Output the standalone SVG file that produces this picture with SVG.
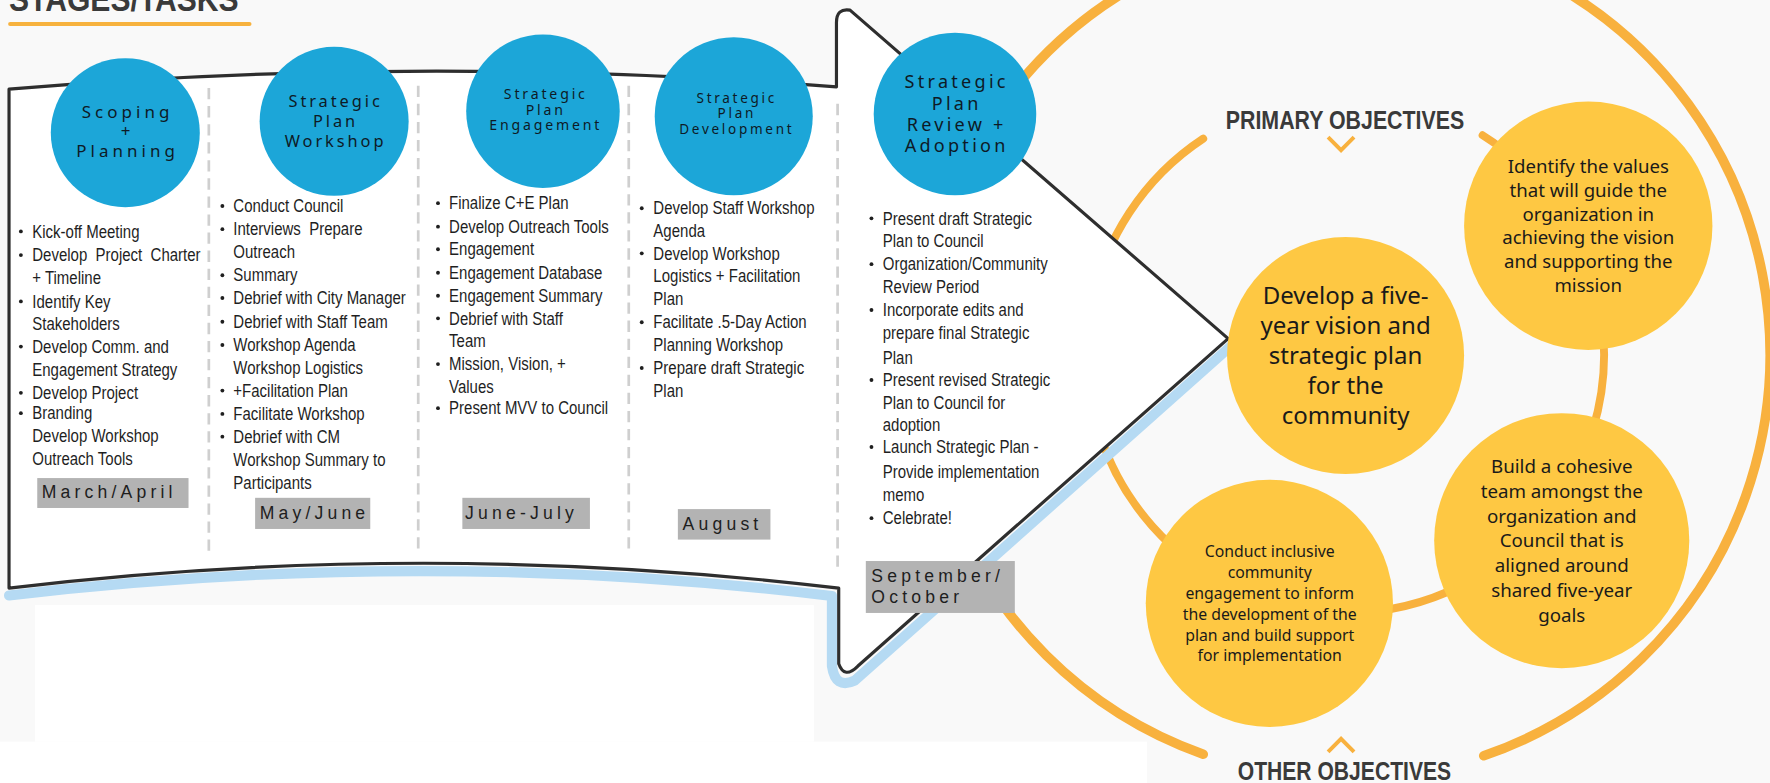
<svg xmlns="http://www.w3.org/2000/svg" width="1770" height="783" viewBox="0 0 1770 783">
<defs>
<style>
.bul{font-family:"Liberation Sans",Arial,sans-serif;font-size:16.2px;fill:#1f1f1f}
.dot{fill:#1f1f1f}
.stage{font-family:"Noto Sans","Open Sans",sans-serif;fill:#0e1a26;text-anchor:middle}
.lab{font-family:"Liberation Sans",Arial,sans-serif;font-size:15.6px;letter-spacing:3.7px;fill:#1e1e1e}
.labbox{fill:#b3b3b3}
.obj{font-family:"Noto Sans","Liberation Sans",sans-serif;fill:#1a1a1a;text-anchor:middle}
.head{font-family:"Liberation Sans",Arial,sans-serif;font-weight:bold;fill:#3a3a3a}
.ring{fill:none;stroke:#f8b13e;stroke-linecap:round}
.bc{fill:#1ca6d8}
.yc{fill:#fec843}
.sep{stroke:#cfcfcf;stroke-width:2.4;stroke-dasharray:10 6;fill:none}
.chev{fill:none;stroke:#f8b13e;stroke-width:3.5}
</style>
</defs>
<rect x="0" y="0" width="1770" height="783" fill="#f9f9f9"/>
<g transform="scale(1.12883)">
  <rect x="31" y="536" width="690" height="121" fill="#ffffff"/>
  <rect x="0" y="657" width="1016" height="40" fill="#ffffff"/>

  <g id="connectors">
    <path class="ring" stroke-width="8.5" d="M1065.9,668.2 A376,376 0 1 1 1314.4,669.5"/>
    <path class="ring" stroke-width="7" d="M1313.4,119.8 A229,229 0 1 1 1065.9,122.8"/>
  </g>

  <g id="title">
    <text class="head" transform="translate(8,9.5) scale(0.86,1)" x="0" y="0" font-size="31" fill="#333">STAGES/TASKS</text>
    <line x1="9" y1="21.3" x2="221" y2="21.3" stroke="#f7b23e" stroke-width="3.6" stroke-linecap="round"/>
  </g>

  <g id="arrow">
    <path d="M8,527.5 Q375,484 737,528 L737,590 Q740,611 757,603 L1090,307" fill="none" stroke="#b5daf3" stroke-width="9" stroke-linecap="round" stroke-linejoin="round"/>
    <path d="M8,79 Q375,48 741,77 L741,20 Q741,7 753,9 L1088,300 L760,590 Q748,602 743,588 L743,521 Q375,477 8,521 Z" fill="#ffffff" stroke="#2e2e2e" stroke-width="2.8" stroke-linejoin="round"/>
    <line class="sep" x1="185" y1="78" x2="185" y2="489"/>
    <line class="sep" x1="370.5" y1="76" x2="370.5" y2="489"/>
    <line class="sep" x1="557" y1="76" x2="557" y2="489"/>
    <line class="sep" x1="742" y1="92" x2="742" y2="503"/>
  </g>

  <g id="stage-1">
    <circle class="bc" cx="111" cy="117.5" r="66"/>
    <text class="stage" font-size="15" letter-spacing="3.6"><tspan x="113" y="104.4">Scoping</tspan><tspan x="113" y="121.6">+</tspan><tspan x="113" y="139.4">Planning</tspan></text>
    <g class="dot"><circle cx="18.5" cy="205" r="1.7"/><circle cx="18.5" cy="226" r="1.7"/><circle cx="18.5" cy="267" r="1.7"/><circle cx="18.5" cy="307" r="1.7"/><circle cx="18.5" cy="348" r="1.7"/><circle cx="18.5" cy="366" r="1.7"/></g>
    <text class="bul" transform="translate(28.6,0) scale(0.82,1)" xml:space="preserve"><tspan x="0" y="210.5">Kick-off Meeting</tspan><tspan x="0" y="231.5">Develop  Project  Charter</tspan><tspan x="0" y="251.5">+ Timeline</tspan><tspan x="0" y="272.5">Identify Key</tspan><tspan x="0" y="292.5">Stakeholders</tspan><tspan x="0" y="312.5">Develop Comm. and</tspan><tspan x="0" y="333.5">Engagement Strategy</tspan><tspan x="0" y="353.5">Develop Project</tspan><tspan x="0" y="371.5">Branding</tspan><tspan x="0" y="391.5">Develop Workshop</tspan><tspan x="0" y="411.5">Outreach Tools</tspan></text>
    <rect class="labbox" x="33" y="423.5" width="134" height="26.5"/>
    <text class="lab" x="37" y="441.2">March/April</text>
  </g>

  <g id="stage-2">
    <circle class="bc" cx="296" cy="107.5" r="66"/>
    <text class="stage" font-size="14.5" letter-spacing="2.6"><tspan x="297.3" y="95.2">Strategic</tspan><tspan x="297.3" y="112.2">Plan</tspan><tspan x="297.3" y="130.2">Workshop</tspan></text>
    <g class="dot"><circle cx="197" cy="182.5" r="1.7"/><circle cx="197" cy="203" r="1.7"/><circle cx="197" cy="243.8" r="1.7"/><circle cx="197" cy="264" r="1.7"/><circle cx="197" cy="285" r="1.7"/><circle cx="197" cy="305.6" r="1.7"/><circle cx="197" cy="346" r="1.7"/><circle cx="197" cy="366.7" r="1.7"/><circle cx="197" cy="386.8" r="1.7"/></g>
    <text class="bul" transform="translate(206.7,0) scale(0.82,1)" xml:space="preserve"><tspan x="0" y="188">Conduct Council</tspan><tspan x="0" y="208.5">Interviews  Prepare</tspan><tspan x="0" y="228.5">Outreach</tspan><tspan x="0" y="249.3">Summary</tspan><tspan x="0" y="269.5">Debrief with City Manager</tspan><tspan x="0" y="290.5">Debrief with Staff Team</tspan><tspan x="0" y="311">Workshop Agenda</tspan><tspan x="0" y="331.5">Workshop Logistics</tspan><tspan x="0" y="351.5">+Facilitation Plan</tspan><tspan x="0" y="372.2">Facilitate Workshop</tspan><tspan x="0" y="392.3">Debrief with CM</tspan><tspan x="0" y="412.5">Workshop Summary to</tspan><tspan x="0" y="433.5">Participants</tspan></text>
    <rect class="labbox" x="226" y="441" width="102" height="27.6"/>
    <text class="lab" x="230" y="459.5">May/June</text>
  </g>

  <g id="stage-3">
    <circle class="bc" cx="481" cy="98.5" r="68"/>
    <text class="stage" font-size="12.5" letter-spacing="2.5"><tspan x="483.5" y="87.5">Strategic</tspan><tspan x="483.5" y="101.5">Plan</tspan><tspan x="483.5" y="115.5">Engagement</tspan></text>
    <g class="dot"><circle cx="388" cy="180" r="1.7"/><circle cx="388" cy="200.8" r="1.7"/><circle cx="388" cy="220.8" r="1.7"/><circle cx="388" cy="241.6" r="1.7"/><circle cx="388" cy="262" r="1.7"/><circle cx="388" cy="282" r="1.7"/><circle cx="388" cy="322.5" r="1.7"/><circle cx="388" cy="361.6" r="1.7"/></g>
    <text class="bul" transform="translate(397.8,0) scale(0.82,1)"><tspan x="0" y="185.5">Finalize C+E Plan</tspan><tspan x="0" y="206.3">Develop Outreach Tools</tspan><tspan x="0" y="226.3">Engagement</tspan><tspan x="0" y="247.1">Engagement Database</tspan><tspan x="0" y="267.5">Engagement Summary</tspan><tspan x="0" y="287.5">Debrief with Staff</tspan><tspan x="0" y="307.5">Team</tspan><tspan x="0" y="328">Mission, Vision, +</tspan><tspan x="0" y="348">Values</tspan><tspan x="0" y="367.1">Present MVV to Council</tspan></text>
    <rect class="labbox" x="409.6" y="441" width="113" height="27.6"/>
    <text class="lab" x="412" y="459.5">June-July</text>
  </g>

  <g id="stage-4">
    <circle class="bc" cx="650" cy="103" r="70"/>
    <text class="stage" font-size="12" letter-spacing="2.4"><tspan x="652.7" y="91.3">Strategic</tspan><tspan x="652.7" y="104.3">Plan</tspan><tspan x="652.7" y="118.3">Development</tspan></text>
    <g class="dot"><circle cx="568.5" cy="184.5" r="1.7"/><circle cx="568.5" cy="224.4" r="1.7"/><circle cx="568.5" cy="285.5" r="1.7"/><circle cx="568.5" cy="326" r="1.7"/></g>
    <text class="bul" transform="translate(578.8,0) scale(0.82,1)"><tspan x="0" y="190">Develop Staff Workshop</tspan><tspan x="0" y="210.2">Agenda</tspan><tspan x="0" y="229.9">Develop Workshop</tspan><tspan x="0" y="250">Logistics + Facilitation</tspan><tspan x="0" y="270.5">Plan</tspan><tspan x="0" y="291">Facilitate .5-Day Action</tspan><tspan x="0" y="311.1">Planning Workshop</tspan><tspan x="0" y="331.5">Prepare draft Strategic</tspan><tspan x="0" y="351.9">Plan</tspan></text>
    <rect class="labbox" x="600.5" y="451" width="82" height="27"/>
    <text class="lab" x="604.7" y="469.2">August</text>
  </g>

  <g id="stage-5">
    <circle class="bc" cx="846" cy="101" r="72"/>
    <text class="stage" font-size="16" letter-spacing="2.9"><tspan x="847.5" y="78.2">Strategic</tspan><tspan x="847.5" y="97.3">Plan</tspan><tspan x="847.5" y="115.8">Review +</tspan><tspan x="847.5" y="134.3">Adoption</tspan></text>
    <g class="dot"><circle cx="772" cy="193.4" r="1.7"/><circle cx="772" cy="234" r="1.7"/><circle cx="772" cy="274.6" r="1.7"/><circle cx="772" cy="336.6" r="1.7"/><circle cx="772" cy="396" r="1.7"/><circle cx="772" cy="459" r="1.7"/></g>
    <text class="bul" transform="translate(782,0) scale(0.82,1)"><tspan x="0" y="198.9">Present draft Strategic</tspan><tspan x="0" y="219">Plan to Council</tspan><tspan x="0" y="239.5">Organization/Community</tspan><tspan x="0" y="259.5">Review Period</tspan><tspan x="0" y="280.1">Incorporate edits and</tspan><tspan x="0" y="300.5">prepare final Strategic</tspan><tspan x="0" y="322.3">Plan</tspan><tspan x="0" y="342.1">Present revised Strategic</tspan><tspan x="0" y="362.5">Plan to Council for</tspan><tspan x="0" y="382">adoption</tspan><tspan x="0" y="401.5">Launch Strategic Plan -</tspan><tspan x="0" y="423.3">Provide implementation</tspan><tspan x="0" y="444">memo</tspan><tspan x="0" y="464.5">Celebrate!</tspan></text>
    <rect class="labbox" x="767" y="497" width="132" height="46"/>
    <text class="lab"><tspan x="771.9" y="515.9">September/</tspan><tspan x="771.9" y="534.2">October</tspan></text>
  </g>

  <g id="objective-main">
    <circle class="yc" cx="1192" cy="315" r="105"/>
    <text class="obj" font-size="21.3"><tspan x="1192" y="268.9">Develop a five-</tspan><tspan x="1192" y="295.5">year vision and</tspan><tspan x="1192" y="322.1">strategic plan</tspan><tspan x="1192" y="348.6">for the</tspan><tspan x="1192" y="375.2">community</tspan></text>
  </g>

  <g id="objective-values">
    <circle class="yc" cx="1407" cy="200" r="110"/>
    <text class="obj" font-size="16.5"><tspan x="1407" y="152.9">Identify the values</tspan><tspan x="1407" y="174.2">that will guide the</tspan><tspan x="1407" y="195.5">organization in</tspan><tspan x="1407" y="216.1">achieving the vision</tspan><tspan x="1407" y="237.7">and supporting the</tspan><tspan x="1407" y="258.4">mission</tspan></text>
  </g>

  <g id="objective-team">
    <circle class="yc" cx="1383.5" cy="479" r="113"/>
    <text class="obj" font-size="16.6"><tspan x="1383.5" y="419.3">Build a cohesive</tspan><tspan x="1383.5" y="441.5">team amongst the</tspan><tspan x="1383.5" y="463.6">organization and</tspan><tspan x="1383.5" y="484.9">Council that is</tspan><tspan x="1383.5" y="506.9">aligned around</tspan><tspan x="1383.5" y="529.2">shared five-year</tspan><tspan x="1383.5" y="550.7">goals</tspan></text>
  </g>

  <g id="objective-engagement">
    <circle class="yc" cx="1124.5" cy="534.5" r="109.5"/>
    <text class="obj" font-size="14"><tspan x="1124.8" y="493.7">Conduct inclusive</tspan><tspan x="1124.8" y="512.3">community</tspan><tspan x="1124.8" y="530.6">engagement to inform</tspan><tspan x="1124.8" y="549.2">the development of the</tspan><tspan x="1124.8" y="567.5">plan and build support</tspan><tspan x="1124.8" y="585.5">for implementation</tspan></text>
  </g>

  <g id="primary-heading">
    <text class="head" transform="translate(1191.5,114) scale(0.845,1)" x="0" y="0" font-size="22.4" text-anchor="middle">PRIMARY OBJECTIVES</text>
    <polyline class="chev" points="1176.5,121.5 1188,133 1199.5,121.5"/>
  </g>

  <g id="other-heading">
    <polyline class="chev" points="1176.5,666 1188,654.5 1199.5,666"/>
    <text class="head" transform="translate(1191,690.7) scale(0.835,1)" x="0" y="0" font-size="22.4" text-anchor="middle">OTHER OBJECTIVES</text>
  </g>
</g>
</svg>
